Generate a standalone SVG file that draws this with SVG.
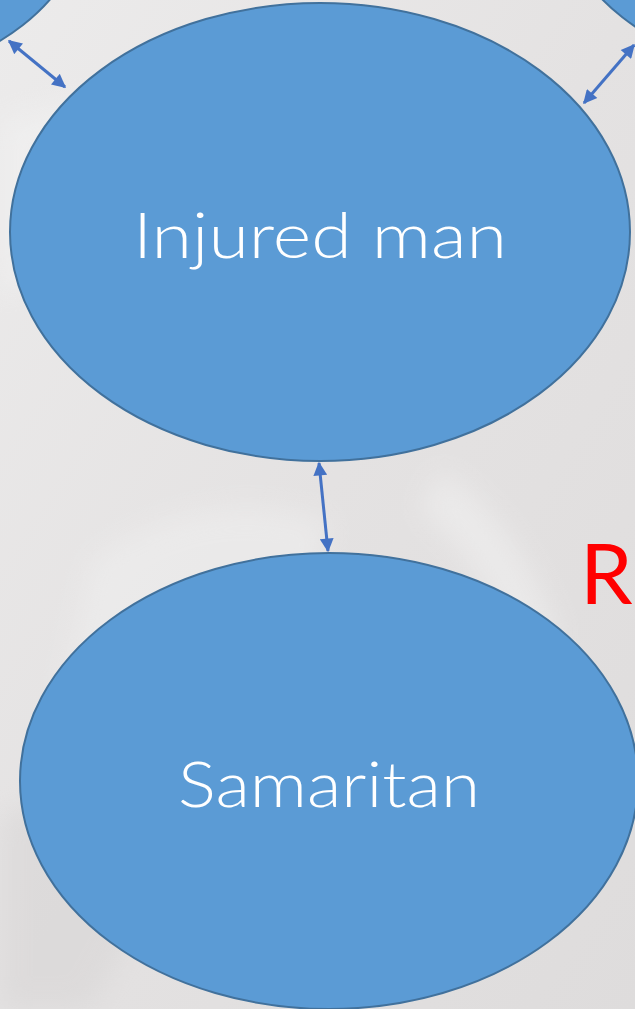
<svg xmlns="http://www.w3.org/2000/svg" width="635" height="1009" viewBox="0 0 635 1009">
<defs>
<style>
.node{fill:#5b9bd5;stroke:#41719c;stroke-width:2}
.lbl{font-family:"Lato","Open Sans",sans-serif;font-weight:300;fill:#ffffff;font-size:64px;text-anchor:middle}
.conn{stroke:#4472c4;stroke-width:3;fill:none;marker-start:url(#ah);marker-end:url(#ah)}
</style>
<marker id="ah" viewBox="0 0 10 10" refX="9" refY="5" markerWidth="5" markerHeight="4.6" orient="auto-start-reverse" markerUnits="strokeWidth">
<path d="M0,0 L10,5 L0,10 z" fill="#4472c4"/>
</marker>
<linearGradient id="bg" x1="0" y1="0" x2="1" y2="1">
<stop offset="0" stop-color="#ecebeb"/>
<stop offset="0.5" stop-color="#e4e2e2"/>
<stop offset="1" stop-color="#dedcdc"/>
</linearGradient>
<filter id="blur"><feGaussianBlur stdDeviation="14"/></filter>
</defs>
<rect width="635" height="1009" fill="url(#bg)"/>
<g filter="url(#blur)" opacity="0.45">
<path d="M0,120 Q200,60 300,130 L300,260 Q150,200 0,300 z" fill="#f4f4f4"/>
<path d="M90,560 Q200,480 330,520 L300,640 Q170,620 60,700 z" fill="#f2f2f2"/>
<path d="M440,470 Q520,520 560,640 L520,660 Q480,560 420,510 z" fill="#f5f5f5"/>
<path d="M0,820 Q80,760 150,900 L90,1009 L0,1009 z" fill="#d4d2d2"/>
</g>
<g id="node-topleft">
<ellipse class="node" cx="-140" cy="-102" rx="230" ry="180"/>
</g>
<g id="node-topright">
<ellipse class="node" cx="785" cy="-110" rx="230" ry="180"/>
</g>
<g id="node-injured">
<ellipse class="node" cx="320" cy="232" rx="310" ry="229"/>
<text class="lbl" x="320" y="258" textLength="374" lengthAdjust="spacingAndGlyphs">Injured man</text>
</g>
<g id="node-samaritan">
<ellipse class="node" cx="329" cy="781" rx="309" ry="228"/>
<text class="lbl" x="329" y="807" textLength="302" lengthAdjust="spacingAndGlyphs">Samaritan</text>
</g>
<g id="connectors">
<line class="conn" x1="9" y1="41" x2="65" y2="87"/>
<line class="conn" x1="634" y1="45" x2="584" y2="103"/>
<line class="conn" x1="319" y1="463" x2="328" y2="551"/>
</g>
<text x="580" y="604" font-family="Lato,'Open Sans',sans-serif" font-size="84" fill="#ff0000">R</text>
</svg>
